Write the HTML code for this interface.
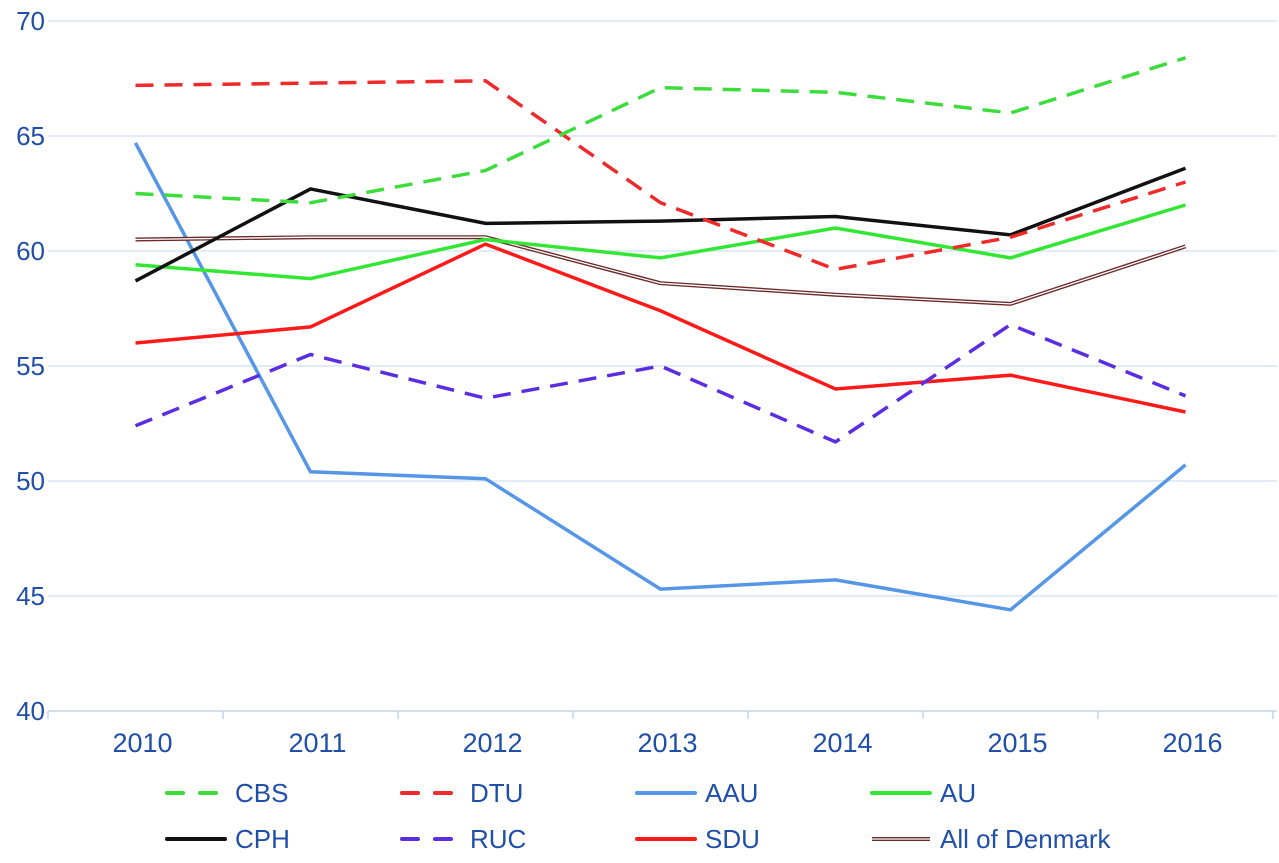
<!DOCTYPE html>
<html><head><meta charset="utf-8"><style>
body{margin:0;background:#fff;}
svg text{font-family:"Liberation Sans",sans-serif;}
</style></head><body>
<svg id="c" width="1279" height="858"></svg>
<script>
const years=["2010","2011","2012","2013","2014","2015","2016"];
const yTicks=[40,45,50,55,60,65,70];
const cbs=[62.5,62.1,63.5,67.1,66.9,66.0,68.4];
const dtu=[67.2,67.3,67.4,62.1,59.2,60.6,63.0];
const aau=[64.7,50.4,50.1,45.3,45.7,44.4,50.7];
const au=[59.4,58.8,60.5,59.7,61.0,59.7,62.0];
const cph=[58.7,62.7,61.2,61.3,61.5,60.7,63.6];
const ruc=[52.4,55.5,53.6,55.0,51.7,56.8,53.7];
const sdu=[56.0,56.7,60.3,57.4,54.0,54.6,53.0];
const dk=[60.5,60.6,60.6,58.6,58.1,57.7,60.2];
const seriesNames=["CBS","DTU","AAU","AU","CPH","RUC","SDU","All of Denmark"];

const NS="http://www.w3.org/2000/svg";
const svg=document.getElementById('c');
const L=48,R=1273,T=21,B=711,ymin=40,ymax=70;
const step=(R-L)/years.length;
const xs=i=>L+step*(i+0.5);
const ys=v=>B-(v-ymin)/(ymax-ymin)*(B-T);
function mk(tag,attrs,parent){const e=document.createElementNS(NS,tag);for(const k in attrs)e.setAttribute(k,attrs[k]);(parent||svg).appendChild(e);return e;}
const TC='#1f4fa8';
yTicks.forEach(t=>{
  const g=mk('line',{x1:L,x2:R+4,y1:ys(t),y2:ys(t),stroke:t===ymin?'#b8cfe6':'#cfe0f0','stroke-width':1.3});
  
  
  const tx=mk('text',{x:45,y:ys(t)+9,'text-anchor':'end','font-size':26,fill:TC});
  tx.textContent=t;
  
  
});
for(let i=0;i<=years.length;i++){
  const tk=mk('line',{x1:L+step*i,x2:L+step*i,y1:B,y2:B+8,stroke:'#b8cfe6','stroke-width':1.3});
  
  
}
years.forEach((y,i)=>{
  const tx=mk('text',{x:xs(i)+7,y:752,'text-anchor':'middle','font-size':27,fill:TC});
  tx.textContent=y;
  
  
});
const styles=[
 {d:cbs,c:'#3ddc3d',dash:'18 11'},
 {d:dtu,c:'#ee2a2a',dash:'18 11'},
 {d:aau,c:'#5596e6',dash:null},
 {d:au,c:'#33e633',dash:null},
 {d:cph,c:'#111',dash:null},
 {d:ruc,c:'#5a2ee0',dash:'18 11'},
 {d:sdu,c:'#ff1a1a',dash:null},
 {d:dk,c:'#6b2a2a',dash:null,dbl:true}
];
const order=[2,6,5,7,3,4,1,0];
order.forEach(k=>{
  const s=styles[k];
  const pts=s.d.map((v,i)=>xs(i)+','+ys(v)).join(' ');
  if(s.dbl){
    const p=mk('polyline',{points:pts,fill:'none',stroke:s.c,'stroke-width':4});
    
    
    const p2=mk('polyline',{points:pts,fill:'none',stroke:'#fff','stroke-width':1.3});
    
    
  } else {
    const a={points:pts,fill:'none',stroke:s.c,'stroke-width':3.5};
    if(s.dash)a['stroke-dasharray']=s.dash;
    const p=mk('polyline',a);
    
    
  }
});
const lx=[167,402,637,872],ly=[793,839];
styles.forEach((s,k)=>{
  const col=k%4,row=Math.floor(k/4);
  const x=lx[col],y=ly[row];
  const g=mk('g',{});
  
  
  if(s.dbl){
    mk('line',{x1:x,x2:x+58,y1:y,y2:y,stroke:s.c,'stroke-width':4},g);
    mk('line',{x1:x,x2:x+58,y1:y,y2:y,stroke:'#fff','stroke-width':1.3},g);
  } else {
    const a={x1:x,x2:x+58,y1:y,y2:y,stroke:s.c,'stroke-width':4,'stroke-linecap':'round'};
    if(s.dash)a['stroke-dasharray']='16 17';
    mk('line',a,g);
  }
  const t=mk('text',{x:x+68,y:y+9,'font-size':26,fill:TC},g);
  t.textContent=seriesNames[k];
});
</script>
</body></html>
